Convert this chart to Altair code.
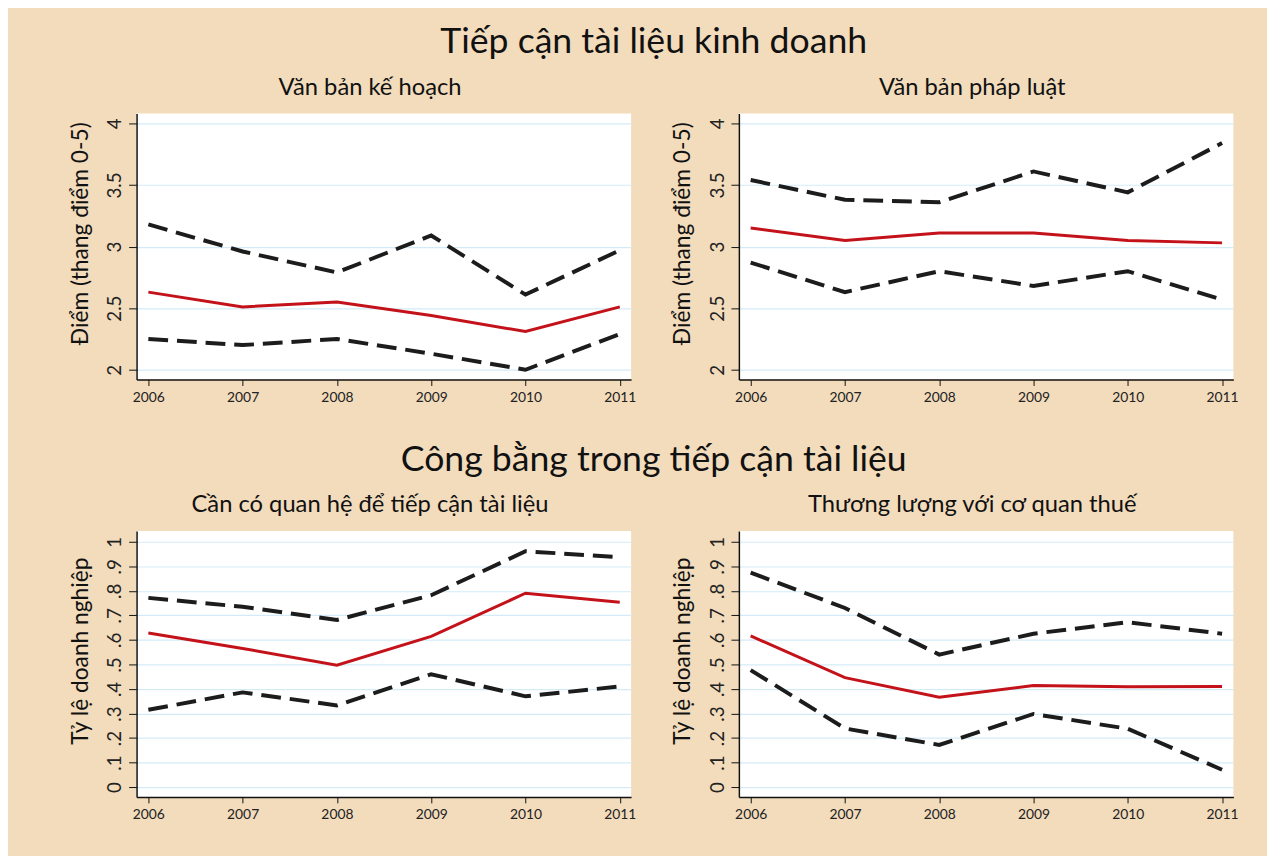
import altair as alt
import pandas as pd

years = [2006, 2007, 2008, 2009, 2010, 2011]

# Panel 1: Văn bản kế hoạch
p1_upper = [3.18, 2.96, 2.79, 3.09, 2.61, 2.97]
p1_mean = [2.63, 2.51, 2.55, 2.44, 2.31, 2.51]
p1_lower = [2.25, 2.20, 2.25, 2.13, 2.00, 2.29]

# Panel 2: Văn bản pháp luật
p2_upper = [3.54, 3.38, 3.36, 3.61, 3.44, 3.84]
p2_mean = [3.15, 3.05, 3.11, 3.11, 3.05, 3.03]
p2_lower = [2.87, 2.63, 2.80, 2.68, 2.80, 2.57]

# Panel 3: Cần có quan hệ để tiếp cận tài liệu
p3_upper = [0.771, 0.735, 0.681, 0.782, 0.961, 0.937]
p3_mean = [0.628, 0.565, 0.497, 0.614, 0.790, 0.753]
p3_lower = [0.315, 0.386, 0.333, 0.460, 0.370, 0.410]

# Panel 4: Thương lượng với cơ quan thuế
p4_upper = [0.874, 0.730, 0.540, 0.625, 0.672, 0.625]
p4_mean = [0.616, 0.446, 0.366, 0.414, 0.409, 0.410]
p4_lower = [0.477, 0.239, 0.172, 0.298, 0.238, 0.071]

score_ticks = [2, 2.5, 3, 3.5, 4]
share_ticks = [0, 0.1, 0.2, 0.3, 0.4, 0.5, 0.6, 0.7, 0.8, 0.9, 1]

FONT = "Lato"
BG = "#f2dcbc"
RED = "#c4121a"
BLACK = "#1c1c1c"
GRID = "#d3ebf6"


def panel(title, upper, mean, lower, domain, ticks, ytitle, label_expr):
    df = pd.DataFrame({"year": years, "upper": upper, "mean": mean, "lower": lower})
    x = alt.X(
        "year:Q",
        scale=alt.Scale(domain=[2005.875, 2011.12], nice=False, zero=False),
        axis=alt.Axis(
            values=years, format="d", grid=False, title=None,
            labelFontSize=14, labelColor="#222222", labelFont=FONT,
            domainColor="#111111", domainWidth=1.5, tickColor="#111111",
            tickSize=6, labelPadding=5,
        ),
    )

    def yenc(field):
        return alt.Y(
            f"{field}:Q",
            scale=alt.Scale(domain=domain, nice=False, zero=False),
            axis=alt.Axis(
                values=ticks, title=ytitle, grid=True, gridColor=GRID, gridWidth=1.2,
                labelAngle=270, labelAlign="center", labelBaseline="bottom",
                labelFontSize=19, labelColor="#222222", labelFont=FONT,
                labelExpr=label_expr, labelPadding=4,
                titleFont=FONT, titleFontSize=23, titleFontWeight="normal",
                titleColor="#111111", titlePadding=14, titleY=121,
                domainColor="#111111", domainWidth=1.5, tickColor="#111111",
                tickSize=8,
            ),
        )

    up = alt.Chart(df).mark_line(color=BLACK, strokeWidth=4, strokeDash=[20, 9]).encode(x=x, y=yenc("upper"))
    lo = alt.Chart(df).mark_line(color=BLACK, strokeWidth=4, strokeDash=[20, 9]).encode(x=x, y=yenc("lower"))
    mn = alt.Chart(df).mark_line(color=RED, strokeWidth=3).encode(x=x, y=yenc("mean"))
    return alt.layer(up, lo, mn).properties(
        width=500, height=269,
        title=alt.TitleParams(title, font=FONT, fontSize=24, fontWeight="normal",
                              color="#111111", anchor="middle", offset=14, dx=-14),
    )


score_expr = "toString(datum.value)"
share_expr = "datum.value == 0 ? '0' : datum.value == 1 ? '1' : replace(format(datum.value, '.1f'), '0.', '.')"

ya = "Điểm (thang điểm 0-5)"
yb = "Tỷ lệ doanh nghiệp"

TITLE_KW = dict(font=FONT, fontSize=36, fontWeight="normal", color="#111111", anchor="middle", offset=15)

row1 = alt.hconcat(
    panel("Văn bản kế hoạch", p1_upper, p1_mean, p1_lower, [1.92, 4.08], score_ticks, ya, score_expr),
    panel("Văn bản pháp luật", p2_upper, p2_mean, p2_lower, [1.92, 4.08], score_ticks, ya, score_expr),
    spacing=36,
).properties(title=alt.TitleParams("Tiếp cận tài liệu kinh doanh", **TITLE_KW))

row2 = alt.hconcat(
    panel("Cần có quan hệ để tiếp cận tài liệu", p3_upper, p3_mean, p3_lower, [-0.04, 1.044], share_ticks, yb, share_expr),
    panel("Thương lượng với cơ quan thuế", p4_upper, p4_mean, p4_lower, [-0.04, 1.044], share_ticks, yb, share_expr),
    spacing=36,
).properties(title=alt.TitleParams("Công bằng trong tiếp cận tài liệu", **TITLE_KW))

chart = alt.vconcat(row1, row2, spacing=38).properties(
    background=BG,
    padding={"left": 62, "top": 12, "right": 29, "bottom": 30},
).configure_view(fill="white", strokeWidth=0)

chart.save("out.html", embed_options={"renderer": "svg", "actions": False})
